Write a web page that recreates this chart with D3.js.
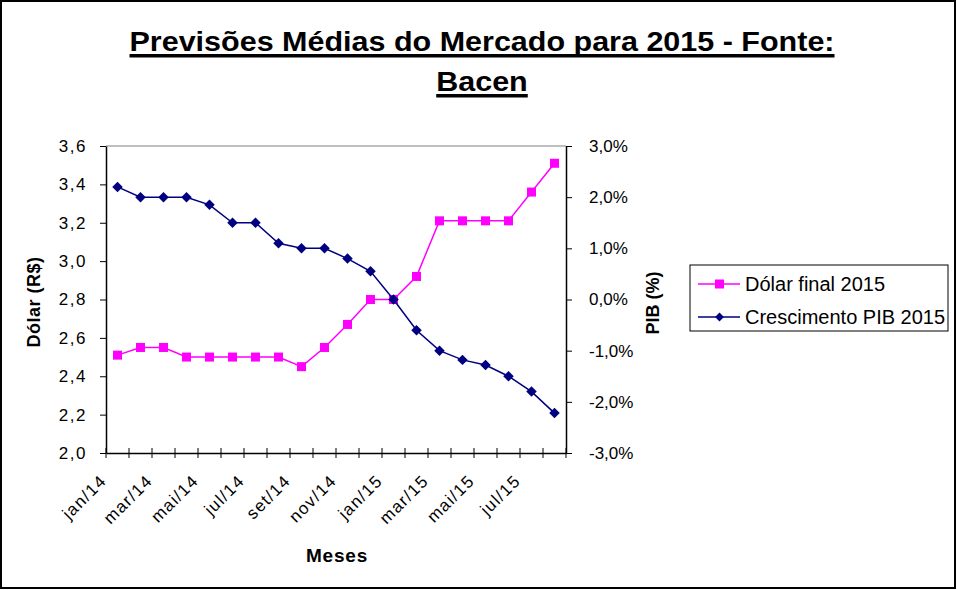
<!DOCTYPE html>
<html>
<head>
<meta charset="utf-8">
<script src="https://cdn.jsdelivr.net/npm/d3@7"></script>
<style>
  body { margin: 0; background: #fff; }
  text { font-family: "Liberation Sans", Arial, sans-serif; }
</style>
</head>
<body>
<svg id="chart" width="957" height="590"></svg>
<script>
const months = ["jan/14", "fev/14", "mar/14", "abr/14", "mai/14", "jun/14", "jul/14", "ago/14", "set/14", "out/14",
  "nov/14", "dez/14", "jan/15", "fev/15", "mar/15", "abr/15", "mai/15", "jun/15", "jul/15", "ago/15"];
const dolar = [2.51, 2.55, 2.55, 2.50, 2.50, 2.50, 2.50, 2.50, 2.45, 2.55,
  2.67, 2.80, 2.80, 2.92, 3.21, 3.21, 3.21, 3.21, 3.36, 3.51];
const pib = [2.2, 2.0, 2.0, 2.0, 1.85, 1.5, 1.5, 1.1, 1.0, 1.0,
  0.8, 0.55, 0.0, -0.6, -1.0, -1.18, -1.28, -1.5, -1.8, -2.22];
const dolarTicks = [2.0, 2.2, 2.4, 2.6, 2.8, 3.0, 3.2, 3.4, 3.6];
const pibTicks = [-3, -2, -1, 0, 1, 2, 3];
const seriesNames = ["Dólar final 2015", "Crescimento PIB 2015"];
const titleLines = ["Previsões Médias do Mercado para 2015 - Fonte:", "Bacen"];

const pink = "#ff00ff";
const navy = "#000080";
const margin = { top: 146, left: 106, right: 566, bottom: 453 };

const svg = d3.select("#chart");

svg.append("rect")
  .attr("x", 1).attr("y", 1)
  .attr("width", 954).attr("height", 587)
  .attr("fill", "#fff")
  .attr("stroke", "#000")
  .attr("stroke-width", 2);

// title, widened a little like Excel draws it, with a thick underline per line
const title = svg.append("g")
  .style("font-size", "28px")
  .style("font-weight", "bold");
let stretch = 1;
titleLines.forEach((t, i) => {
  const txt = title.append("text")
    .attr("x", 482)
    .attr("y", 51 + i * 40)
    .attr("text-anchor", "middle")
    .text(t);
  const natural = txt.node().getComputedTextLength();
  if (i === 0) stretch = 705 / natural;
  txt.attr("textLength", natural * stretch).attr("lengthAdjust", "spacingAndGlyphs");
  const bb = txt.node().getBBox();
  title.append("rect")
    .attr("x", bb.x)
    .attr("y", 51 + i * 40 + 3)
    .attr("width", bb.width)
    .attr("height", 3.5)
    .attr("fill", "#000");
});

const x = d3.scaleBand()
  .domain(months)
  .range([margin.left, margin.right]);

const yLeft = d3.scaleLinear()
  .domain([2.0, 3.6])
  .range([margin.bottom, margin.top]);

const yRight = d3.scaleLinear()
  .domain([-3, 3])
  .range([margin.bottom, margin.top]);

// plot area top border
svg.append("line")
  .attr("x1", margin.left).attr("x2", margin.right)
  .attr("y1", margin.top).attr("y2", margin.top)
  .attr("stroke", "#808080");

const fmtDolar = d => d3.format(".1f")(d).replace(".", ",");
const fmtPib = d => d3.format(".1f")(d).replace(".", ",").replace("\u2212", "-") + "%";

const leftAxis = svg.append("g")
  .attr("transform", `translate(${margin.left},0)`)
  .call(d3.axisLeft(yLeft).tickValues(dolarTicks).tickFormat(fmtDolar).tickSizeInner(6).tickSizeOuter(0).tickPadding(13));

const rightAxis = svg.append("g")
  .attr("transform", `translate(${margin.right},0)`)
  .call(d3.axisRight(yRight).tickValues(pibTicks).tickFormat(fmtPib).tickSizeInner(6).tickSizeOuter(0).tickPadding(17));

const bottomAxis = svg.append("g")
  .attr("transform", `translate(0,${margin.bottom})`)
  .call(d3.axisBottom(x).tickSize(0).tickFormat(""));

// category boundary ticks crossing the axis
bottomAxis.selectAll(".boundary")
  .data(months.concat([null]))
  .enter()
  .append("line")
  .attr("class", "boundary")
  .attr("x1", (d, i) => margin.left + i * x.step())
  .attr("x2", (d, i) => margin.left + i * x.step())
  .attr("y1", -5)
  .attr("y2", 5)
  .attr("stroke", "#000");

bottomAxis.selectAll(".mlabel")
  .data(months.filter((m, i) => i % 2 === 0))
  .enter()
  .append("text")
  .attr("class", "mlabel")
  .attr("text-anchor", "end")
  .attr("transform", d => `translate(${x(d) + x.bandwidth() / 2 - 10},${29}) rotate(-45)`)
  .attr("fill", "#000")
  .style("font-size", "17px")
  .style("letter-spacing", "1.3px")
  .text(d => d);

[leftAxis, rightAxis, bottomAxis].forEach(g => {
  g.selectAll(".domain").attr("stroke", "#000").attr("stroke-width", 1.5);
  g.selectAll(".tick line").attr("stroke", "#000");
  g.selectAll(".tick text").style("font-size", "17px").attr("fill", "#000");
});
leftAxis.selectAll(".tick text").style("letter-spacing", "1.5px");

// axis titles
svg.append("text")
  .attr("transform", "translate(40,302) rotate(-90)")
  .attr("text-anchor", "middle")
  .style("font-size", "18px")
  .style("font-weight", "bold")
  .style("letter-spacing", "0.5px")
  .text("Dólar (R$)");

svg.append("text")
  .attr("transform", "translate(659,303) rotate(-90)")
  .attr("text-anchor", "middle")
  .style("font-size", "18px")
  .style("font-weight", "bold")
  .text("PIB (%)");

svg.append("text")
  .attr("x", 337)
  .attr("y", 562)
  .attr("text-anchor", "middle")
  .style("font-size", "19px")
  .style("font-weight", "bold")
  .style("letter-spacing", "0.8px")
  .text("Meses");

const cx = (d, i) => x(months[i]) + x.bandwidth() / 2;

// dolar series
svg.append("path")
  .datum(dolar)
  .attr("d", d3.line().x(cx).y(d => yLeft(d)))
  .attr("fill", "none")
  .attr("stroke", pink)
  .attr("stroke-width", 1.5);

svg.selectAll(".sq")
  .data(dolar)
  .enter()
  .append("rect")
  .attr("class", "sq")
  .attr("x", (d, i) => cx(d, i) - 4.5)
  .attr("y", d => yLeft(d) - 4.5)
  .attr("width", 9)
  .attr("height", 9)
  .attr("fill", pink);

// pib series
svg.append("path")
  .datum(pib)
  .attr("d", d3.line().x(cx).y(d => yRight(d)))
  .attr("fill", "none")
  .attr("stroke", navy)
  .attr("stroke-width", 1.5);

const diamond = d3.symbol().type(d3.symbolDiamond2).size(70);
svg.selectAll(".dm")
  .data(pib)
  .enter()
  .append("path")
  .attr("class", "dm")
  .attr("transform", (d, i) => `translate(${cx(d, i)},${yRight(d)})`)
  .attr("d", diamond)
  .attr("fill", navy);

// legend
const legend = svg.append("g").attr("transform", "translate(690,265)");
legend.append("rect")
  .attr("width", 258)
  .attr("height", 66)
  .attr("fill", "#fff")
  .attr("stroke", "#000");

const rows = legend.selectAll(".row")
  .data(seriesNames)
  .enter()
  .append("g")
  .attr("transform", (d, i) => `translate(0,${19 + i * 33})`);

rows.append("line")
  .attr("x1", 8).attr("x2", 50)
  .attr("stroke", (d, i) => i === 0 ? pink : navy)
  .attr("stroke-width", 1.5);

rows.filter((d, i) => i === 0).append("rect")
  .attr("x", 25).attr("y", -4.5).attr("width", 9).attr("height", 9)
  .attr("fill", pink);

rows.filter((d, i) => i === 1).append("path")
  .attr("transform", "translate(29.5,0)")
  .attr("d", d3.symbol().type(d3.symbolDiamond2).size(50))
  .attr("fill", navy);

rows.append("text")
  .attr("x", 55)
  .attr("dy", "0.35em")
  .style("font-size", "20px")
  .text(d => d);
</script>
</body>
</html>
